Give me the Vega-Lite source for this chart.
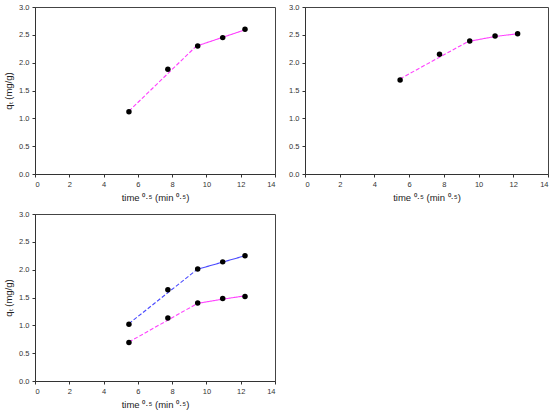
{
  "$schema": "https://vega.github.io/schema/vega-lite/v6.json",
  "background": "white",
  "padding": {"left": 3, "top": 2, "right": 2, "bottom": 2},
  "datasets": {
    "points": [
      {"panel": "a", "series": "m", "t": 5.48, "q": 1.12},
      {"panel": "a", "series": "m", "t": 7.75, "q": 1.88},
      {"panel": "a", "series": "m", "t": 9.49, "q": 2.30},
      {"panel": "a", "series": "m", "t": 10.95, "q": 2.45},
      {"panel": "a", "series": "m", "t": 12.25, "q": 2.60},
      {"panel": "b", "series": "m", "t": 5.48, "q": 1.69},
      {"panel": "b", "series": "m", "t": 7.75, "q": 2.15},
      {"panel": "b", "series": "m", "t": 9.49, "q": 2.39},
      {"panel": "b", "series": "m", "t": 10.95, "q": 2.48},
      {"panel": "b", "series": "m", "t": 12.25, "q": 2.52},
      {"panel": "c", "series": "b", "t": 5.48, "q": 1.02},
      {"panel": "c", "series": "b", "t": 7.75, "q": 1.64},
      {"panel": "c", "series": "b", "t": 9.49, "q": 2.01},
      {"panel": "c", "series": "b", "t": 10.95, "q": 2.14},
      {"panel": "c", "series": "b", "t": 12.25, "q": 2.25},
      {"panel": "c", "series": "m", "t": 5.48, "q": 0.69},
      {"panel": "c", "series": "m", "t": 7.75, "q": 1.13},
      {"panel": "c", "series": "m", "t": 9.49, "q": 1.40},
      {"panel": "c", "series": "m", "t": 10.95, "q": 1.48},
      {"panel": "c", "series": "m", "t": 12.25, "q": 1.52}
    ],
    "fits": [
      {"panel": "a", "series": "m", "part": "dash", "t": 5.48, "q": 1.13},
      {"panel": "a", "series": "m", "part": "dash", "t": 9.35, "q": 2.28},
      {"panel": "a", "series": "m", "part": "solid", "t": 9.35, "q": 2.29},
      {"panel": "a", "series": "m", "part": "solid", "t": 12.25, "q": 2.59},
      {"panel": "b", "series": "m", "part": "dash", "t": 5.48, "q": 1.71},
      {"panel": "b", "series": "m", "part": "dash", "t": 9.4, "q": 2.38},
      {"panel": "b", "series": "m", "part": "solid", "t": 9.4, "q": 2.38},
      {"panel": "b", "series": "m", "part": "solid", "t": 10.95, "q": 2.47},
      {"panel": "b", "series": "m", "part": "solid", "t": 12.25, "q": 2.52},
      {"panel": "c", "series": "b", "part": "dash", "t": 5.48, "q": 1.03},
      {"panel": "c", "series": "b", "part": "dash", "t": 9.4, "q": 1.99},
      {"panel": "c", "series": "b", "part": "solid", "t": 9.4, "q": 2.0},
      {"panel": "c", "series": "b", "part": "solid", "t": 12.25, "q": 2.25},
      {"panel": "c", "series": "m", "part": "dash", "t": 5.48, "q": 0.70},
      {"panel": "c", "series": "m", "part": "dash", "t": 9.4, "q": 1.38},
      {"panel": "c", "series": "m", "part": "solid", "t": 9.4, "q": 1.39},
      {"panel": "c", "series": "m", "part": "solid", "t": 10.95, "q": 1.47},
      {"panel": "c", "series": "m", "part": "solid", "t": 12.25, "q": 1.53}
    ]
  },
  "columns": 2,
  "spacing": {"row": 6, "column": 12},
  "concat": [
    {
      "width": 240,
      "height": 167,
      "layer": [
        {
          "data": {"name": "fits"},
          "transform": [{"filter": "datum.panel === 'a'"}],
          "mark": {"type": "line", "strokeWidth": 1.1},
          "encoding": {
            "x": {"field": "t", "type": "quantitative", "scale": {"domain": [0, 14]}, "axis": {"title": "time ⁰·⁵ (min ⁰·⁵)"}},
            "y": {"field": "q", "type": "quantitative", "scale": {"domain": [0, 3]}, "axis": {"title": "qₜ (mg/g)"}},
            "color": {"field": "series", "type": "nominal", "scale": {"domain": ["m", "b"], "range": ["#ff40ff", "#4a4aff"]}, "legend": null},
            "strokeDash": {"field": "part", "type": "nominal", "scale": {"domain": ["dash", "solid"], "range": [[4, 2], [1, 0]]}, "legend": null}
          }
        },
        {
          "data": {"name": "points"},
          "transform": [{"filter": "datum.panel === 'a'"}],
          "mark": {"type": "point", "filled": true, "color": "black", "size": 30, "opacity": 1},
          "encoding": {
            "x": {"field": "t", "type": "quantitative"},
            "y": {"field": "q", "type": "quantitative"}
          }
        },
        {
          "mark": {"type": "text", "align": "left", "fontSize": 9, "font": "Liberation Sans", "color": "#222"},
          "encoding": {
            "x": {"datum": 0.75},
            "y": {"datum": 2.7},
            "text": {"value": "(a)"}
          }
        }
      ]
    },
    {
      "width": 243,
      "height": 167,
      "layer": [
        {
          "data": {"name": "fits"},
          "transform": [{"filter": "datum.panel === 'b'"}],
          "mark": {"type": "line", "strokeWidth": 1.1},
          "encoding": {
            "x": {"field": "t", "type": "quantitative", "scale": {"domain": [0, 14]}, "axis": {"title": "time ⁰·⁵ (min ⁰·⁵)"}},
            "y": {"field": "q", "type": "quantitative", "scale": {"domain": [0, 3]}, "axis": {"title": null}},
            "color": {"field": "series", "type": "nominal", "scale": {"domain": ["m", "b"], "range": ["#ff40ff", "#4a4aff"]}, "legend": null},
            "strokeDash": {"field": "part", "type": "nominal", "scale": {"domain": ["dash", "solid"], "range": [[4, 2], [1, 0]]}, "legend": null}
          }
        },
        {
          "data": {"name": "points"},
          "transform": [{"filter": "datum.panel === 'b'"}],
          "mark": {"type": "point", "filled": true, "color": "black", "size": 30, "opacity": 1},
          "encoding": {
            "x": {"field": "t", "type": "quantitative"},
            "y": {"field": "q", "type": "quantitative"}
          }
        },
        {
          "mark": {"type": "text", "align": "left", "fontSize": 9, "font": "Liberation Sans", "color": "#222"},
          "encoding": {
            "x": {"datum": 0.75},
            "y": {"datum": 2.7},
            "text": {"value": "(b)"}
          }
        }
      ]
    },
    {
      "width": 240,
      "height": 167,
      "layer": [
        {
          "data": {"name": "fits"},
          "transform": [{"filter": "datum.panel === 'c'"}],
          "mark": {"type": "line", "strokeWidth": 1.1},
          "encoding": {
            "x": {"field": "t", "type": "quantitative", "scale": {"domain": [0, 14]}, "axis": {"title": "time ⁰·⁵ (min ⁰·⁵)"}},
            "y": {"field": "q", "type": "quantitative", "scale": {"domain": [0, 3]}, "axis": {"title": "qₜ (mg/g)"}},
            "color": {"field": "series", "type": "nominal", "scale": {"domain": ["m", "b"], "range": ["#ff40ff", "#4a4aff"]}, "legend": null},
            "strokeDash": {"field": "part", "type": "nominal", "scale": {"domain": ["dash", "solid"], "range": [[4, 2], [1, 0]]}, "legend": null},
            "detail": {"field": "series", "type": "nominal"}
          }
        },
        {
          "data": {"name": "points"},
          "transform": [{"filter": "datum.panel === 'c'"}],
          "mark": {"type": "point", "filled": true, "color": "black", "size": 30, "opacity": 1},
          "encoding": {
            "x": {"field": "t", "type": "quantitative"},
            "y": {"field": "q", "type": "quantitative"}
          }
        },
        {
          "mark": {"type": "text", "align": "left", "fontSize": 9, "font": "Liberation Sans", "color": "#222"},
          "encoding": {
            "x": {"datum": 0.75},
            "y": {"datum": 2.7},
            "text": {"value": "(c)"}
          }
        }
      ]
    }
  ],
  "config": {
    "view": {"stroke": "#444", "strokeWidth": 1},
    "font": "Liberation Sans",
    "axis": {
      "grid": false,
      "domainColor": "#333",
      "tickColor": "#333",
      "tickSize": 3,
      "labelFont": "Liberation Sans",
      "labelFontSize": 7.5,
      "labelColor": "#333",
      "titleFont": "Liberation Sans",
      "titleFontSize": 9.5,
      "titleFontWeight": "normal",
      "titleColor": "#222"
    },
    "axisX": {"values": [0, 2, 4, 6, 8, 10, 12, 14], "labelPadding": 3, "titlePadding": 5},
    "axisY": {"values": [0, 0.5, 1, 1.5, 2, 2.5, 3], "format": ".1f", "labelPadding": 3, "titlePadding": 5}
  }
}
